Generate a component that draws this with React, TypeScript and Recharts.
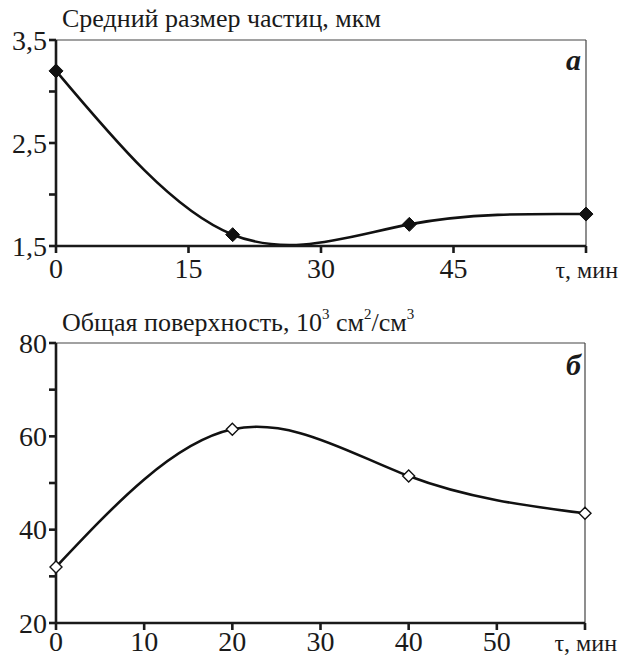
import React from 'react';
import { LineChart, Line, XAxis, YAxis, ReferenceLine } from 'recharts';

const timeMin = [0, 20, 40, 60];
const particleSize = [3.2, 1.61, 1.71, 1.81];
const surfaceArea = [32, 61.5, 51.5, 43.5];

const sizeTicks = [1.5, 2, 2.5, 3, 3.5];
const surfaceTicks = [20, 30, 40, 50, 60, 70, 80];
const timeTicksTop = [0, 15, 30, 45, 60];
const timeTicksBottom = [0, 10, 20, 30, 40, 50, 60];
const timeUnitLabel = 'τ, мин';

const sizeData = timeMin.map((t, i) => ({ t, v: particleSize[i] }));
const surfaceData = timeMin.map((t, i) => ({ t, v: surfaceArea[i] }));

const FONT = "'Liberation Serif', 'Times New Roman', serif";
const AXIS = { stroke: '#1a1a1a', strokeWidth: 2.6 };

const Diamond = (filled: boolean, r: number) => (props: any) => {
  const { cx, cy, index } = props;
  if (cx == null || cy == null) return null;
  const pts = `${cx},${cy - r} ${cx + r},${cy} ${cx},${cy + r} ${cx - r},${cy}`;
  return (
    <polygon
      key={index}
      points={pts}
      fill={filled ? '#111' : '#fff'}
      stroke="#111"
      strokeWidth={filled ? 1 : 1.4}
    />
  );
};

const xTick = (last: number, dy: number) => (props: any) => {
  const { x, y, payload } = props;
  const isLast = payload.value === last;
  return (
    <text
      x={isLast ? x + 32 : x}
      y={y + dy}
      textAnchor={isLast ? 'end' : 'middle'}
      fontFamily={FONT}
      fontSize={isLast ? 24 : 28}
      fill="#1a1a1a"
    >
      {isLast ? timeUnitLabel : payload.value}
    </text>
  );
};

const yTick = (show: (v: number) => boolean) => (props: any) => {
  const { x, y, payload } = props;
  if (!show(payload.value)) return null;
  return (
    <text x={x} y={y} dy="0.35em" textAnchor="end" fontFamily={FONT} fontSize={28} fill="#1a1a1a">
      {String(payload.value).replace('.', ',')}
    </text>
  );
};

const title: React.CSSProperties = {
  position: 'absolute',
  fontFamily: FONT,
  fontSize: 26,
  lineHeight: 1,
  color: '#1a1a1a',
  whiteSpace: 'nowrap',
};

const sup: React.CSSProperties = { fontSize: 15, verticalAlign: 'top', position: 'relative', top: -3 };

const panelTag: React.CSSProperties = {
  position: 'absolute',
  fontFamily: FONT,
  fontSize: 30,
  fontWeight: 'bold',
  fontStyle: 'italic',
  lineHeight: 1,
  color: '#1a1a1a',
};

export default function App() {
  return (
    <div style={{ position: 'absolute', left: 0, top: 0, width: 620, height: 656, background: '#fff', fontFamily: FONT }}>
      <div style={{ ...title, left: 62, top: 6 }}>Средний размер частиц, мкм</div>
      <div style={{ ...panelTag, left: 566, top: 45 }}>a</div>
      <div style={{ position: 'absolute', left: 0, top: 0 }}>
        <LineChart width={620} height={300} data={sizeData} margin={{ top: 40, right: 34, bottom: 24, left: 6 }}>
          <XAxis
            dataKey="t"
            type="number"
            domain={[0, 60]}
            ticks={timeTicksTop}
            interval={0}
            height={30}
            axisLine={AXIS}
            tickLine={AXIS}
            tickSize={7}
            tick={xTick(60, 23)}
          />
          <YAxis
            type="number"
            domain={[1.5, 3.5]}
            ticks={sizeTicks}
            interval={0}
            width={50}
            axisLine={AXIS}
            tickLine={AXIS}
            tickSize={7}
            tick={yTick((v) => v === 1.5 || v === 2.5 || v === 3.5)}
          />
          <ReferenceLine y={3.5} stroke="#444" strokeWidth={1.2} />
          <ReferenceLine x={60} stroke="#444" strokeWidth={1.2} />
          <Line
            dataKey="v"
            type="natural"
            stroke="#111"
            strokeWidth={2.6}
            dot={Diamond(true, 7)}
            activeDot={false}
            isAnimationActive={false}
          />
        </LineChart>
      </div>

      <div style={{ ...title, left: 62, top: 310 }}>
        Общая поверхность, 10<span style={sup}>3</span> см<span style={sup}>2</span>/см<span style={sup}>3</span>
      </div>
      <div style={{ ...panelTag, left: 566, top: 350 }}>б</div>
      <div style={{ position: 'absolute', left: 0, top: 300 }}>
        <LineChart width={620} height={356} data={surfaceData} margin={{ top: 43, right: 35, bottom: 3, left: 6 }}>
          <XAxis
            dataKey="t"
            type="number"
            domain={[0, 60]}
            ticks={timeTicksBottom}
            interval={0}
            height={30}
            axisLine={AXIS}
            tickLine={AXIS}
            tickSize={7}
            tick={xTick(60, 19)}
          />
          <YAxis
            type="number"
            domain={[20, 80]}
            ticks={surfaceTicks}
            interval={0}
            width={50}
            axisLine={AXIS}
            tickLine={AXIS}
            tickSize={7}
            tick={yTick((v) => v % 20 === 0)}
          />
          <ReferenceLine y={80} stroke="#444" strokeWidth={1.2} />
          <ReferenceLine x={60} stroke="#444" strokeWidth={1.2} />
          <Line
            dataKey="v"
            type="natural"
            stroke="#111"
            strokeWidth={2.6}
            dot={Diamond(false, 6)}
            activeDot={false}
            isAnimationActive={false}
          />
        </LineChart>
      </div>
    </div>
  );
}
